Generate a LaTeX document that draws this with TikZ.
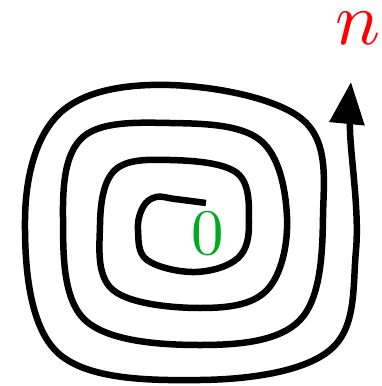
\documentclass[tikz,border=0pt]{standalone}
\usetikzlibrary{arrows.meta}
\begin{document}
\begin{tikzpicture}[x=1pt,y=-1pt,
  spiral/.style={line width=6.5pt, line join=round},
  lab/.style={inner sep=0pt}]
\useasboundingbox (0,0) rectangle (382,386);
\draw[spiral,-{Triangle[length=42pt,width=34pt]}] plot[smooth,tension=0.62] coordinates {
 (206,203) (175,199) (156,197) (143,207) (138,230) (147,260) (195,272) (238,258) (249,222) (237,173)
 (170,160) (115,170) (100,225) (113,290) (200,308) (267,290) (287,217) (260,140)
 (170,123) (83,137) (63,217) (85,320) (200,345) (300,320) (323,217) (303,120)
 (170,85) (60,113) (25,220) (58,353) (200,380) (330,350) (356,250) (350,130) (351,82)};
\node[lab,text=red,scale=7.5] (n) at (358,28) {$n$};
\node[lab,text={rgb,255:red,0;green,170;blue,30},scale=6.5] (zero) at (208,234) {$0$};
\end{tikzpicture}
\end{document}
